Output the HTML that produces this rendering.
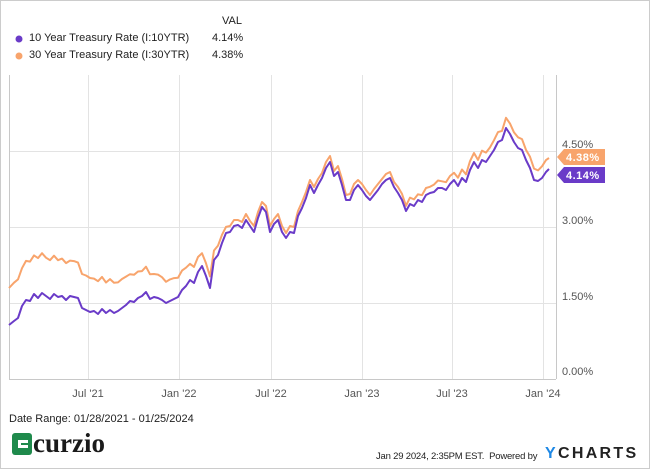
<!DOCTYPE html>
<html><head><meta charset="utf-8"><style>
html,body{margin:0;padding:0;background:#fff;}
body{width:650px;height:469px;position:relative;overflow:hidden;font-family:"Liberation Sans",sans-serif;}
.t{position:absolute;white-space:nowrap;color:#222;}
</style></head><body>
<div style="position:absolute;left:0;top:0;width:648px;height:467px;border:1px solid #ccc;"></div>
<svg id="s" width="650" height="469" style="position:absolute;left:0;top:0">
<g stroke="#e3e3e3" stroke-width="1">
<line x1="9" x2="556" y1="151.5" y2="151.5"/>
<line x1="9" x2="556" y1="227.5" y2="227.5"/>
<line x1="9" x2="556" y1="303.5" y2="303.5"/>
<line x1="88.5" x2="88.5" y1="75" y2="379"/>
<line x1="179.5" x2="179.5" y1="75" y2="379"/>
<line x1="271.5" x2="271.5" y1="75" y2="379"/>
<line x1="362.5" x2="362.5" y1="75" y2="379"/>
<line x1="452.5" x2="452.5" y1="75" y2="379"/>
<line x1="543.5" x2="543.5" y1="75" y2="379"/>
</g>
<g stroke="#c8c8c8" stroke-width="1" fill="none">
<line x1="9.5" x2="9.5" y1="75" y2="379"/>
<line x1="9" x2="556" y1="379.5" y2="379.5"/>
<line x1="556.5" x2="556.5" y1="75" y2="379"/>
</g>
<polyline id="o" fill="none" stroke="#f8a46c" stroke-width="2" stroke-linejoin="round"/>
<polyline id="p" fill="none" stroke="#6a3bc8" stroke-width="2" stroke-linejoin="round"/>
<polygon points="557,157 564,149 605,149 605,165 564,165" fill="#f8a46c"/>
<polygon points="557,175 564,167 605,167 605,183 564,183" fill="#6a3bc8"/>
<text x="566" y="161" font-size="11" font-weight="bold" fill="#fff" font-family="Liberation Sans" letter-spacing="0.5">4.38%</text>
<text x="566" y="179" font-size="11" font-weight="bold" fill="#fff" font-family="Liberation Sans" letter-spacing="0.5">4.14%</text>
<g font-size="11" fill="#555" font-family="Liberation Sans">
<text x="562" y="148">4.50%</text>
<text x="562" y="224">3.00%</text>
<text x="562" y="300">1.50%</text>
<text x="562" y="375">0.00%</text>
</g>
<g font-size="11" fill="#555" font-family="Liberation Sans" text-anchor="middle">
<text x="88" y="397">Jul '21</text>
<text x="179" y="397">Jan '22</text>
<text x="271" y="397">Jul '22</text>
<text x="362" y="397">Jan '23</text>
<text x="452" y="397">Jul '23</text>
<text x="543" y="397">Jan '24</text>
</g>
<circle cx="19" cy="39" r="3.5" fill="#6a3bc8"/>
<circle cx="19" cy="56" r="3.5" fill="#f8a46c"/>
<rect x="12" y="433" width="20" height="22" rx="3" fill="#1f8a4c"/>
<rect x="18" y="440" width="10" height="8" fill="#fff"/>
<rect x="21" y="443" width="7" height="2" fill="#1f8a4c"/>
</svg>
<div class="t" style="left:222px;top:15px;font-size:11px;">VAL</div>
<div class="t" style="left:29px;top:32px;font-size:11px;">10 Year Treasury Rate (I:10YTR)</div>
<div class="t" style="left:212px;top:32px;font-size:11px;">4.14%</div>
<div class="t" style="left:29px;top:49px;font-size:11px;">30 Year Treasury Rate (I:30YTR)</div>
<div class="t" style="left:212px;top:49px;font-size:11px;">4.38%</div>
<div class="t" style="left:9px;top:413px;font-size:11px;">Date Range: 01/28/2021 - 01/25/2024</div>
<div class="t" style="left:33px;top:428px;font-size:27px;font-weight:bold;font-family:'Liberation Serif',serif;color:#1a1a1a;letter-spacing:0px;">curzio</div>
<div class="t" style="left:376px;top:451px;font-size:9.5px;letter-spacing:-0.2px;">Jan 29 2024, 2:35PM EST.&nbsp; Powered by</div>
<div class="t" style="left:545px;top:445px;font-size:16px;font-weight:bold;letter-spacing:2.3px;"><span style="color:#1e88e5">Y</span>CHARTS</div>
<script>
var d=[9,325,14,321,18,318,22,306,26,300,30,301,34,294,38,298,42,293,46,296,50,299,54,294,58,297,62,296,66,300,70,296,74,297,78,298,82,308,86,310,90,312,94,311,98,314,102,309,106,313,110,310,114,313,118,311,122,308,126,305,130,301,134,302,138,298,142,296,146,292,150,299,154,297,158,298,162,300,166,303,170,301,174,299,178,297,182,290,186,286,190,280,194,283,198,272,202,266,206,276,210,288,214,260,218,255,222,243,226,233,230,232,234,226,238,225,242,228,246,220,250,226,254,232,258,218,262,207,266,212,270,232,274,224,278,220,282,232,286,238,290,232,294,233,298,216,302,208,306,198,310,185,314,193,318,185,322,178,326,168,330,162,334,176,338,172,342,185,346,200,350,200,354,190,358,185,362,190,366,196,370,200,374,195,378,190,382,184,386,180,390,178,394,187,398,193,402,200,406,211,410,204,414,206,418,200,422,202,426,195,430,193,434,192,438,188,442,188,446,190,450,184,454,180,458,186,462,178,466,182,470,170,474,162,478,168,482,160,486,162,490,156,494,150,498,142,502,140,506,128,510,134,514,142,518,148,522,150,526,160,530,168,534,180,538,181,542,178,546,172,549,169];
var k=[[9,38],[40,40],[90,34],[180,20],[230,6],[400,6],[500,10],[549,12]];
function off(x){for(var i=0;i<k.length-1;i++){if(x<=k[i+1][0]){var t=(x-k[i][0])/(k[i+1][0]-k[i][0]);return k[i][1]+t*(k[i+1][1]-k[i][1]);}}return 12;}
var p=[],o=[];
for(var i=0;i<d.length;i+=2){var x=d[i],y=d[i+1];p.push(x+","+y);o.push(x+","+(y-off(x)+((i/2)%3==0?1:0)).toFixed(1));}
document.getElementById("p").setAttribute("points",p.join(" "));
document.getElementById("o").setAttribute("points",o.join(" "));
</script>
</body></html>
